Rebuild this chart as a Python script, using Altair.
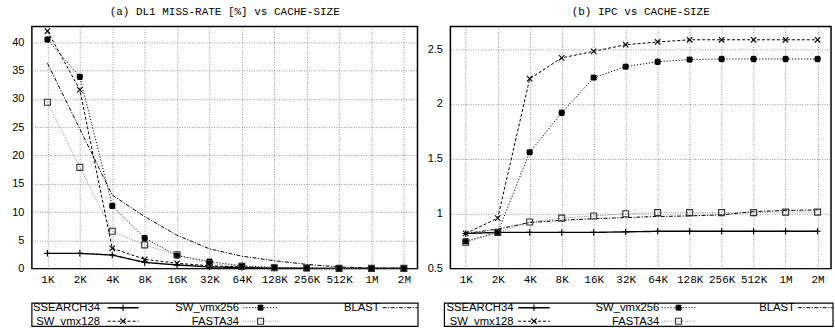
import altair as alt
import pandas as pd

# Cache sizes on the x axis
sizes = ["1K", "2K", "4K", "8K", "16K", "32K", "64K", "128K", "256K", "512K", "1M", "2M"]
series = ["SSEARCH34", "SW_vmx128", "SW_vmx256", "FASTA34", "BLAST"]

# (a) L1 data-cache miss rate [%]
miss_ssearch = [2.7, 2.7, 2.4, 1.1, 0.65, 0.3, 0.2, 0.1, 0.05, 0.05, 0.05, 0.05]
miss_vmx128 = [42.0, 31.6, 3.6, 1.65, 0.95, 0.5, 0.3, 0.12, 0.05, 0.05, 0.05, 0.05]
miss_vmx256 = [40.5, 33.9, 11.1, 5.4, 2.3, 1.25, 0.5, 0.2, 0.1, 0.05, 0.05, 0.05]
miss_fasta = [29.4, 17.9, 6.6, 4.2, 2.45, 0.9, 0.4, 0.15, 0.1, 0.05, 0.05, 0.05]
miss_blast = [36.3, 24.7, 13.0, 9.2, 5.9, 3.5, 2.2, 1.4, 0.75, 0.3, 0.1, 0.1]

# (b) instructions per cycle
ipc_ssearch = [0.82, 0.83, 0.83, 0.83, 0.83, 0.835, 0.84, 0.84, 0.84, 0.84, 0.84, 0.84]
ipc_vmx128 = [0.82, 0.96, 2.23, 2.42, 2.48, 2.54, 2.565, 2.585, 2.585, 2.585, 2.585, 2.585]
ipc_vmx256 = [0.75, 0.83, 1.56, 1.92, 2.24, 2.34, 2.385, 2.405, 2.41, 2.41, 2.41, 2.41]
ipc_fasta = [0.74, 0.83, 0.925, 0.96, 0.98, 1.0, 1.01, 1.01, 1.01, 1.01, 1.015, 1.015]
ipc_blast = [0.82, 0.86, 0.92, 0.94, 0.955, 0.965, 0.975, 0.98, 0.99, 1.02, 1.03, 1.035]

miss_ticks = [0, 5, 10, 15, 20, 25, 30, 35, 40]
ipc_ticks = [0.5, 1, 1.5, 2, 2.5]

PLUS = "M-1,0L1,0M0,-1L0,1"
CROSS = "M-1,-1L1,1M-1,1L1,-1"
STAR = "M-1,0L1,0M0,-1L0,1M-0.8,-0.8L0.8,0.8M-0.8,0.8L0.8,-0.8"

STYLE = {
    "SSEARCH34": dict(dash=[1, 0], lw=1.4, color="black", shape=PLUS, size=42, sw=1.1, mstroke="black"),
    "SW_vmx128": dict(dash=[3, 2], lw=1.0, color="black", shape=CROSS, size=30, sw=1.1, mstroke="black"),
    "SW_vmx256": dict(dash=[1.2, 1.8], lw=1.0, color="black", shape=STAR, size=40, sw=2.0, mstroke="black"),
    "FASTA34": dict(dash=[1, 1.3], lw=1.0, color="#8a8a8a", shape="square", size=36, sw=1.1, mstroke="#333"),
    "BLAST": dict(dash=[4, 1.5, 1.2, 1.5], lw=1.0, color="black", shape=None, size=0, sw=1, mstroke="black"),
}

LEGEND_ROWS = {"SSEARCH34": (0, 0), "SW_vmx256": (1, 0), "BLAST": (2, 0),
               "SW_vmx128": (0, 1), "FASTA34": (1, 1)}

PLOT_H = 243
label_expr = "[" + ",".join("'%s'" % s for s in sizes) + "][datum.value]"


def make_panel(values, title, ydomain, yticks, width, legend_geom, yfmt):
    rows = []
    for name in series:
        for i, v in enumerate(values[name]):
            rows.append({"idx": i, "series": name, "value": v})
    df = pd.DataFrame(rows)

    x = alt.X("idx:Q",
              scale=alt.Scale(domain=[-0.48, 11.42], nice=False, zero=False),
              axis=alt.Axis(values=list(range(len(sizes))), labelExpr=label_expr, title=None,
                            grid=True, gridDash=[1, 1.5], gridColor="#777", gridWidth=0.8,
                            tickSize=0, domain=False, labelFont="Liberation Mono",
                            labelFontSize=11, labelColor="black", labelPadding=5,
                            labelAngle=0, labelOverlap=False))
    y = alt.Y("value:Q",
              scale=alt.Scale(domain=ydomain, nice=False, zero=False),
              axis=alt.Axis(values=yticks, format=yfmt, title=None, grid=True,
                            gridDash=[1, 1.5], gridColor="#777", gridWidth=0.8,
                            tickSize=0, domain=False, labelFont="Liberation Sans",
                            labelFontSize=11, labelColor="black", labelPadding=8))
    base = alt.Chart(df).encode(x=x, y=y)

    layers = []
    for name in series:
        st = STYLE[name]
        sub = base.transform_filter(alt.datum.series == name)
        layers.append(sub.mark_line(stroke=st["color"], strokeDash=st["dash"],
                                    strokeWidth=st["lw"], clip=True))
    for name in series:
        st = STYLE[name]
        if st["shape"] is None:
            continue
        sub = base.transform_filter(alt.datum.series == name)
        layers.append(sub.mark_point(shape=st["shape"], size=st["size"], filled=False,
                                     stroke=st["mstroke"], strokeWidth=st["sw"], opacity=1))

    one = alt.Data(values=[{}])
    # panel title
    layers.append(alt.Chart(one).mark_text(text=title, font="Liberation Mono", fontSize=11,
                                           color="black", align="center", baseline="alphabetic")
                  .encode(x=alt.value(width / 2), y=alt.value(-12)))

    # key box below the plot
    g = legend_geom
    layers.append(alt.Chart(one).mark_rect(filled=False, stroke="black", strokeWidth=1.2)
                  .encode(x=alt.value(g["box"][0]), x2=alt.value(g["box"][1]),
                          y=alt.value(PLOT_H + 34.7), y2=alt.value(PLOT_H + 58)))
    row_base = [PLOT_H + 42.7, PLOT_H + 56.3]
    for name in series:
        st = STYLE[name]
        col, row = LEGEND_ROWS[name]
        tx = g["text"][col]
        s0, s1 = g["sample"][col]
        yb = row_base[row]
        ym = yb - 3.5
        layers.append(alt.Chart(one).mark_text(text=name, font="Liberation Sans", fontSize=11.3,
                                               color="black", align="right", baseline="alphabetic")
                      .encode(x=alt.value(tx), y=alt.value(yb)))
        layers.append(alt.Chart(one).mark_rule(stroke=st["color"], strokeDash=st["dash"],
                                               strokeWidth=st["lw"])
                      .encode(x=alt.value(s0), x2=alt.value(s1), y=alt.value(ym)))
        if st["shape"] is not None:
            layers.append(alt.Chart(one).mark_point(shape=st["shape"], size=st["size"], filled=False,
                                                    stroke=st["mstroke"], strokeWidth=st["sw"],
                                                    opacity=1)
                          .encode(x=alt.value((s0 + s1) / 2), y=alt.value(ym)))

    return alt.layer(*layers).properties(width=width, height=PLOT_H)


left = make_panel(
    {"SSEARCH34": miss_ssearch, "SW_vmx128": miss_vmx128, "SW_vmx256": miss_vmx256,
     "FASTA34": miss_fasta, "BLAST": miss_blast},
    "(a) DL1 MISS-RATE [%] vs CACHE-SIZE", [0, 42.8], miss_ticks, 387,
    {"box": (0, 387.5), "text": [68.3, 208, 349], "sample": [(76, 107), (212, 247), (352, 387)]},
    "d")

right = make_panel(
    {"SSEARCH34": ipc_ssearch, "SW_vmx128": ipc_vmx128, "SW_vmx256": ipc_vmx256,
     "FASTA34": ipc_fasta, "BLAST": ipc_blast},
    "(b) IPC vs CACHE-SIZE", [0.5, 2.706], ipc_ticks, 382,
    {"box": (-6, 384), "text": [63.3, 209.7, 345.7], "sample": [(68, 99.7), (212, 246), (349, 384)]},
    "~g")

chart = (
    alt.hconcat(left, right, spacing=33, bounds="flush")
    .properties(padding={"left": 11, "top": 4, "right": 0, "bottom": 0}, background="white")
    .configure_view(stroke="black", strokeWidth=1.5)
)

chart.save("out.html", embed_options={"renderer": "svg", "actions": False})
